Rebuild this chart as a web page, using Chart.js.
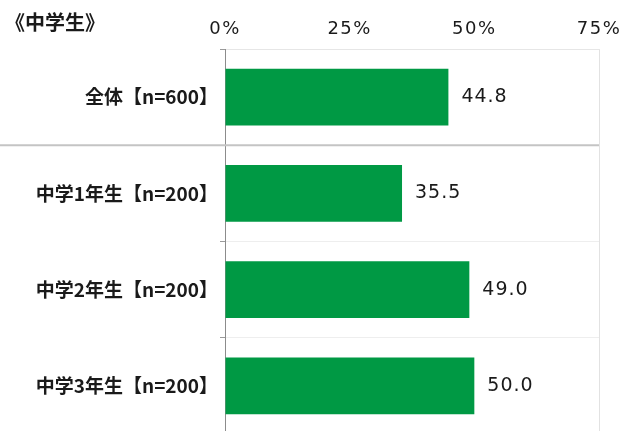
<!DOCTYPE html>
<html>
<head>
<meta charset="utf-8">
<script src="https://cdn.jsdelivr.net/npm/chart.js@4"></script>
<style>
  html, body { margin: 0; padding: 0; background: #fff; overflow: hidden; }
  #wrap { position: relative; width: 625px; height: 434px; }
  #title {
    position: absolute; left: 5px; top: 12px;
    font: bold 20px "Noto Sans CJK JP"; line-height: 20px; color: #1a1a1a;
  }
</style>
</head>
<body>
<div id="wrap">
  <canvas id="chart" width="625" height="434"></canvas>
  <div id="title">《中学生》</div>
</div>
<script>
// data
const categories = ["全体【n=600】", "中学1年生【n=200】", "中学2年生【n=200】", "中学3年生【n=200】"];
const values = [44.8, 35.5, 49.0, 50.0];
const xTicks = [0, 25, 50, 75];

const textColor = "#1a1a1a";
const tickFont = { family: "DejaVu Sans", size: 18 };

// x tick labels (z:1) and value labels are drawn after the bars, a little spaced
const numberLabels = {
  id: "numberLabels",
  afterDatasetsDraw(chart) {
    const ctx = chart.ctx;
    const meta = chart.getDatasetMeta(0);
    ctx.letterSpacing = "1.5px";
    ctx.save();
    ctx.letterSpacing = "1px";
    ctx.font = '19px "DejaVu Sans"';
    ctx.fillStyle = textColor;
    ctx.textAlign = "left";
    ctx.textBaseline = "middle";
    meta.data.forEach((bar, i) => {
      ctx.fillText(values[i].toFixed(1), bar.x + 13, bar.y);
    });
    ctx.restore();
  },
  afterDraw(chart) {
    chart.ctx.letterSpacing = "0px";
  }
};

// darker separator under 全体, running to the left edge
const separator = {
  id: "separator",
  beforeDatasetsDraw(chart) {
    const y = chart.scales.y;
    const py = (y.getPixelForValue(0) + y.getPixelForValue(1)) / 2;
    const ctx = chart.ctx;
    ctx.save();
    ctx.strokeStyle = "#c4c4c4";
    ctx.lineWidth = 2;
    ctx.beginPath();
    ctx.moveTo(0, py);
    ctx.lineTo(chart.chartArea.right, py);
    ctx.stroke();
    ctx.restore();
  }
};

new Chart(document.getElementById("chart"), {
  type: "bar",
  data: {
    labels: categories,
    datasets: [{
      data: values,
      backgroundColor: "#009944",
      borderWidth: 0,
      barPercentage: 1,
      categoryPercentage: 0.59
    }]
  },
  options: {
    indexAxis: "y",
    responsive: false,
    animation: false,
    layout: { padding: { left: 0, right: 26, top: 0, bottom: 0 } },
    plugins: {
      legend: { display: false },
      tooltip: { enabled: false }
    },
    scales: {
      x: {
        position: "top",
        min: 0,
        max: 75,
        afterFit: s => { s.height = 49; s.paddingLeft = 0; s.paddingRight = 0; },
        afterBuildTicks: s => { s.ticks = xTicks.map(v => ({ value: v })); },
        ticks: {
          z: 1,
          padding: 9,
          color: textColor,
          font: tickFont,
          callback: v => v + "%"
        },
        grid: {
          drawTicks: false,
          color: c => (c.tick && c.tick.value === 75 ? "#e2e2e2" : "rgba(0,0,0,0)")
        },
        border: { display: true, color: "#e6e6e6", width: 1 }
      },
      y: {
        afterFit: s => { s.width = 225; s.paddingTop = 0; s.paddingBottom = 0; },
        ticks: {
          padding: 2,
          color: textColor,
          font: { family: "Noto Sans CJK JP", size: 19, weight: "bold" }
        },
        grid: {
          offset: true,
          drawTicks: true,
          tickLength: 5,
          color: c => (c.index === 0 ? "#e6e6e6" : "#eeeeee"),
          tickColor: "#9a9a9a"
        },
        border: { display: true, color: "#8c8c8c", width: 1 }
      }
    }
  },
  plugins: [separator, numberLabels]
});
</script>
</body>
</html>
